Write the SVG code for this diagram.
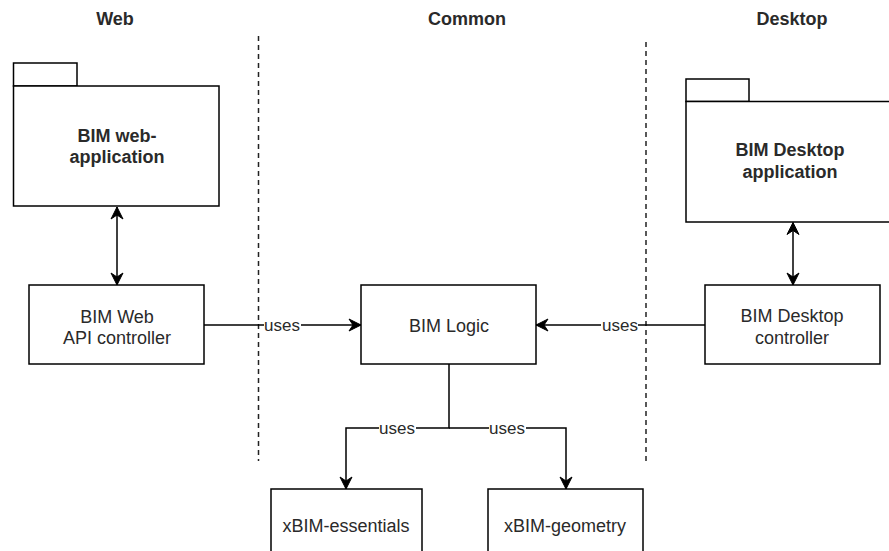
<svg xmlns="http://www.w3.org/2000/svg" width="889" height="551" viewBox="0 0 889 551">
<style>
  .box{fill:#fff;stroke:#000;stroke-width:1.5}
  .t{font-family:"Liberation Sans",Arial,sans-serif;font-size:18px;fill:#2a2a2a;text-anchor:middle}
  .b{font-weight:bold}
  .lbl{font-family:"Liberation Sans",Arial,sans-serif;font-size:17px;fill:#2a2a2a;text-anchor:middle}
  .edge{fill:none;stroke:#000;stroke-width:1.5}
  .sep{fill:none;stroke:#222;stroke-width:1.5;stroke-dasharray:5 4}
  .lb{fill:#fff}
</style>
<defs>
  <marker id="arr" markerUnits="userSpaceOnUse" markerWidth="14" markerHeight="14" refX="12" refY="6" orient="auto-start-reverse" overflow="visible">
    <path d="M0,0 L12,6 L0,12 L4,6 Z" fill="#000" stroke="#000" stroke-width="1"/>
  </marker>
</defs>
<rect width="889" height="551" fill="#fff"/>
<g id="headers">
  <text class="t b" x="115" y="25">Web</text>
  <text class="t b" x="467" y="25">Common</text>
  <text class="t b" x="792" y="25">Desktop</text>
</g>
<g id="separators">
  <line class="sep" x1="258.5" y1="36" x2="258.5" y2="461"/>
  <line class="sep" x1="646" y1="42" x2="646" y2="464"/>
</g>
<g id="web-app">
  <rect class="box" x="13.5" y="63" width="63.5" height="23"/>
  <rect class="box" x="13.5" y="86" width="205.5" height="120"/>
  <text class="t b" x="117" y="142">BIM web-</text>
  <text class="t b" x="117" y="163">application</text>
</g>
<g id="desktop-app">
  <rect class="box" x="686" y="79" width="63" height="22.5"/>
  <rect class="box" x="686" y="101.5" width="206" height="120.5"/>
  <text class="t b" x="790" y="156">BIM Desktop</text>
  <text class="t b" x="790" y="178">application</text>
</g>
<g id="web-api">
  <rect class="box" x="29" y="285" width="175" height="79"/>
  <text class="t" x="117" y="323">BIM Web</text>
  <text class="t" x="117" y="344">API controller</text>
</g>
<g id="bim-logic">
  <rect class="box" x="361" y="285" width="175" height="79"/>
  <text class="t" x="449" y="332">BIM Logic</text>
</g>
<g id="desktop-ctrl">
  <rect class="box" x="705" y="285" width="175" height="79"/>
  <text class="t" x="792" y="322">BIM Desktop</text>
  <text class="t" x="792" y="344">controller</text>
</g>
<g id="xbim-essentials">
  <rect class="box" x="271" y="489" width="151" height="79"/>
  <text class="t" x="346" y="532">xBIM-essentials</text>
</g>
<g id="xbim-geometry">
  <rect class="box" x="488" y="489" width="155" height="79"/>
  <text class="t" x="565" y="532">xBIM-geometry</text>
</g>
<g id="connectors">
  <line class="edge" x1="117" y1="207" x2="117" y2="285" marker-start="url(#arr)" marker-end="url(#arr)"/>
  <line class="edge" x1="793" y1="222.5" x2="793" y2="285" marker-start="url(#arr)" marker-end="url(#arr)"/>
  <line class="edge" x1="204" y1="325" x2="361" y2="325" marker-end="url(#arr)"/>
  <line class="edge" x1="705" y1="325" x2="536" y2="325" marker-end="url(#arr)"/>
  <polyline class="edge" points="449,364 449,428 346,428 346,489" marker-end="url(#arr)"/>
  <polyline class="edge" points="449,428 566,428 566,489" marker-end="url(#arr)"/>
  <rect class="lb" x="264" y="318" width="37" height="14"/>
  <text class="lbl" x="282" y="331">uses</text>
  <rect class="lb" x="601" y="318" width="37" height="14"/>
  <text class="lbl" x="620" y="331">uses</text>
  <rect class="lb" x="379" y="421" width="37" height="14"/>
  <text class="lbl" x="397" y="434">uses</text>
  <rect class="lb" x="489" y="421" width="37" height="14"/>
  <text class="lbl" x="507" y="434">uses</text>
</g>
</svg>
